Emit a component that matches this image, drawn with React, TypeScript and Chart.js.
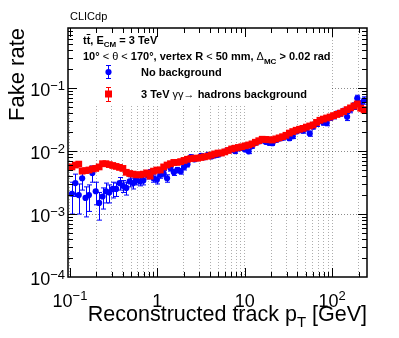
import React, { useEffect, useRef } from "react";
import { Chart, registerables } from "chart.js";

Chart.register(...registerables);

// ---------------- data ----------------
const pT = [
  0.1054, 0.1153, 0.1261, 0.1379, 0.1508, 0.1649, 0.1803, 0.1972, 0.2157, 0.2359,
  0.2579, 0.2821, 0.3085, 0.3373, 0.3689, 0.4034, 0.4412, 0.4825, 0.5277, 0.5771,
  0.6311, 0.6901, 0.7547, 0.8254, 0.9026, 0.9871, 1.0795, 1.1805, 1.291, 1.412,
  1.544, 1.688, 1.846, 2.019, 2.208, 2.415, 2.641, 2.888, 3.158, 3.454,
  3.777, 4.131, 4.517, 4.94, 5.402, 5.908, 6.461, 7.066, 7.727, 8.45,
  9.241, 10.11, 11.05, 12.09, 13.22, 14.45, 15.81, 17.29, 18.9, 20.67,
  22.61, 24.72, 27.04, 29.57, 32.34, 35.36, 38.67, 42.29, 46.25, 50.58,
  55.31, 60.49, 66.15, 72.34, 79.11, 86.52, 94.62, 103.5, 113.2, 123.7,
  135.3, 148.0, 161.8, 177.0, 193.5, 211.7, 231.5,
];

const withBkg = [
  0.0056, 0.006, 0.0062, 0.0048, 0.0049, 0.005, 0.0052, 0.0053, 0.0056, 0.0063,
  0.0063, 0.0061, 0.0059, 0.0057, 0.0055, 0.0053, 0.0046, 0.0044, 0.0043, 0.0042,
  0.0042, 0.0043, 0.0045, 0.004, 0.0048, 0.005, 0.005, 0.0056, 0.006, 0.0063,
  0.0066, 0.0066, 0.0068, 0.0071, 0.0074, 0.0076, 0.0077, 0.0077, 0.0079, 0.0081,
  0.0083, 0.0086, 0.009, 0.0093, 0.0093, 0.0097, 0.0102, 0.0108, 0.0111, 0.0114,
  0.0117, 0.0121, 0.0125, 0.013, 0.0138, 0.0146, 0.0154, 0.0153, 0.0151, 0.015,
  0.0156, 0.0162, 0.0169, 0.0178, 0.0193, 0.0204, 0.0214, 0.0222, 0.0229, 0.024,
  0.025, 0.026, 0.0285, 0.0308, 0.0322, 0.0335, 0.0348, 0.0365, 0.0382, 0.04,
  0.0425, 0.0455, 0.0485, 0.052, 0.056, 0.048, 0.045,
];

const withBkgErr = [
  0.0005, 0.0005, 0.0005, 0.0004, 0.0004, 0.0004, 0.0004, 0.0004, 0.0004, 0.0004,
  0.0004, 0.0004, 0.0004, 0.0004, 0.0003, 0.0003, 0.0003, 0.0003, 0.0003, 0.0003,
  0.0003, 0.0003, 0.0003, 0.0003, 0.0003, 0.0003, 0.0003, 0.0003, 0.0003, 0.0003,
  0.0003, 0.0003, 0.0003, 0.0003, 0.0003, 0.0003, 0.0003, 0.0003, 0.0004, 0.0004,
  0.0004, 0.0004, 0.0004, 0.0004, 0.0004, 0.0004, 0.0005, 0.0005, 0.0005, 0.0005,
  0.0005, 0.0006, 0.0006, 0.0006, 0.0007, 0.0007, 0.0008, 0.0008, 0.0008, 0.0008,
  0.0009, 0.0009, 0.001, 0.001, 0.0011, 0.0012, 0.0012, 0.0013, 0.0014, 0.0015,
  0.0016, 0.0017, 0.0019, 0.0021, 0.0022, 0.0024, 0.0026, 0.0028, 0.003, 0.0033,
  0.0036, 0.004, 0.0044, 0.0049, 0.0055, 0.005, 0.005,
];

const noBkg = [
  0.0021, 0.0031, 0.002, 0.0037, 0.0018, 0.002, 0.0045, 0.0023, 0.0015, 0.0019,
  0.0023, 0.0022, 0.0025, 0.0025, 0.0031, 0.0028, 0.0026, 0.0033, 0.0031, 0.0035,
  0.0033, 0.0034, 0.0042, 0.0045, 0.0037, 0.0035, 0.0042, 0.0044, 0.0037, 0.0054,
  0.0046, 0.005, 0.0048, 0.0056, 0.0062, 0.008, 0.0074, 0.0077, 0.0084, 0.008,
  0.0087, 0.0082, 0.0085, 0.0088, 0.0093, 0.0098, 0.0103, 0.0105, 0.01, 0.011,
  0.0112, 0.0106, 0.0099, 0.012, 0.0135, 0.0142, 0.0148, 0.014, 0.0135, 0.0133,
  0.015, 0.0158, 0.0162, 0.0175, 0.016, 0.0172, 0.0205, 0.0215, 0.021, 0.0228,
  0.019, 0.0245, 0.027, 0.03, 0.0285, 0.028, 0.034, 0.036, 0.039, 0.04,
  0.043, 0.035, 0.046, 0.052, 0.069, 0.056, 0.064,
];

const noBkgErr = [
  0.0011, 0.0012, 0.001, 0.0013, 0.0009, 0.0009, 0.0013, 0.0009, 0.0007, 0.0007,
  0.0008, 0.0007, 0.0007, 0.0006, 0.0007, 0.0006, 0.0006, 0.0006, 0.0006, 0.0006,
  0.0005, 0.0005, 0.0006, 0.0006, 0.0005, 0.0005, 0.0005, 0.0005, 0.0005, 0.0006,
  0.0005, 0.0005, 0.0005, 0.0006, 0.0006, 0.0007, 0.0006, 0.0006, 0.0007, 0.0006,
  0.0007, 0.0006, 0.0006, 0.0007, 0.0007, 0.0007, 0.0008, 0.0008, 0.0008, 0.0008,
  0.0008, 0.0008, 0.0008, 0.0009, 0.001, 0.001, 0.0011, 0.001, 0.001, 0.001,
  0.0011, 0.0012, 0.0012, 0.0013, 0.0013, 0.0014, 0.0016, 0.0017, 0.0017, 0.0019,
  0.0018, 0.0021, 0.0024, 0.0027, 0.0027, 0.0028, 0.0033, 0.0036, 0.004, 0.0043,
  0.0048, 0.0045, 0.0055, 0.0063, 0.008, 0.0072, 0.0085,
];

const X_DECADES = [0.1, 1, 10, 100];
const Y_DECADES = [1e-4, 1e-3, 1e-2, 1e-1];
const MINOR_STEPS = [1, 2, 3, 4, 5, 6, 7, 8, 9];
const X_MIN = 0.095;
const X_MAX = 250;
const Y_MIN = 1e-4;
const Y_MAX = 0.9;

const LABEL_WITH_BKG = "3 TeV γγ→ hadrons background";
const LABEL_NO_BKG = "No background";
const X_TITLE = "Reconstructed track p";
const Y_TITLE = "Fake rate";

// ---------------- style ----------------
const FAM = '"Liberation Sans", Arial, Helvetica, sans-serif';
const BLUE = "rgb(0,0,255)";
const RED = "rgb(255,0,0)";
const GRID = "rgba(0,0,0,0.32)";

function isDecade(v: number) {
  const l = Math.log10(v);
  return Math.abs(l - Math.round(l)) < 1e-6;
}

// returns [base, exponent] for a decade value, or null
function decadeParts(v: number): [string, string] | null {
  if (!isDecade(v)) return null;
  const e = Math.round(Math.log10(v));
  if (e === 0) return ["1", ""];
  if (e === 1) return ["10", ""];
  return ["10", String(e).replace("-", "\u2212")];
}

function buildTicks(decades: number[], min: number, max: number) {
  const out: { value: number; major: boolean }[] = [];
  for (const d of decades) {
    for (const m of MINOR_STEPS) {
      const v = d * m;
      if (v >= min * 0.999 && v <= max * 0.999) out.push({ value: v, major: m === 1 });
    }
  }
  return out.sort((a, b) => a.value - b.value);
}

function drawSegs(ctx: CanvasRenderingContext2D, x: number, y: number, segs: [string, string, number][]) {
  let cx = x;
  for (const [t, f, dy] of segs) {
    ctx.font = f;
    ctx.fillText(t, cx, y + dy);
    cx += ctx.measureText(t).width;
  }
  return cx;
}

function segsWidth(ctx: CanvasRenderingContext2D, segs: [string, string, number][]) {
  let w = 0;
  for (const [t, f] of segs) {
    ctx.font = f;
    w += ctx.measureText(t).width;
  }
  return w;
}

function errBar(ctx: CanvasRenderingContext2D, x: number, y1: number, y2: number, cap: number) {
  ctx.beginPath();
  ctx.moveTo(x, y1);
  ctx.lineTo(x, y2);
  ctx.moveTo(x - cap, y1);
  ctx.lineTo(x + cap, y1);
  ctx.moveTo(x - cap, y2);
  ctx.lineTo(x + cap, y2);
  ctx.stroke();
}

const ERRS = [withBkgErr, noBkgErr];
const VALS = [withBkg, noBkg];
const COLS = [RED, BLUE];

const LBL = `18px ${FAM}`;
const LBL_SUP = `13px ${FAM}`;

const rootPlugin = {
  id: "rootStyle",
  beforeDatasetDraw(chart: any, args: any) {
    const ctx = chart.ctx as CanvasRenderingContext2D;
    const ys = chart.scales.y;
    const i = args.index;
    const meta = args.meta;
    ctx.save();
    ctx.beginPath();
    ctx.rect(chart.chartArea.left, chart.chartArea.top, chart.chartArea.width, chart.chartArea.height);
    ctx.clip();
    ctx.strokeStyle = COLS[i];
    ctx.lineWidth = 1;
    meta.data.forEach((pt: any, k: number) => {
      const v = VALS[i][k];
      const e = ERRS[i][k];
      const yTop = ys.getPixelForValue(v + e);
      const yBot = ys.getPixelForValue(Math.max(v - e, Y_MIN * 0.5));
      errBar(ctx, Math.round(pt.x) + 0.5, yTop, yBot, 2.5);
    });
    ctx.restore();
  },
  afterDatasetsDraw(chart: any) {
    const ctx = chart.ctx as CanvasRenderingContext2D;
    const a = chart.chartArea;
    ctx.save();
    // legend box
    ctx.fillStyle = "#fff";
    ctx.fillRect(a.left + 1, a.top + 1, 331 - a.left, 104 - a.top);
    ctx.fillStyle = "#000";
    ctx.textBaseline = "alphabetic";
    ctx.textAlign = "left";
    const B = `bold 11px ${FAM}`;
    const N = `11px ${FAM}`;
    const S = `bold 8px ${FAM}`;
    ctx.font = B;
    const wt = ctx.measureText("t").width;
    drawSegs(ctx, 83, 44, [["tt", B, 0], [", E", B, 0], ["CM", S, 3], [" = 3 TeV", B, 0]]);
    ctx.strokeStyle = "#000";
    ctx.lineWidth = 1;
    ctx.beginPath();
    ctx.moveTo(83 + wt, 34.5);
    ctx.lineTo(83 + 2 * wt, 34.5);
    ctx.stroke();
    drawSegs(ctx, 83, 60, [
      ["10°", B, 0], [" < ", N, 0], ["θ", N, 0], [" < ", N, 0], ["170°, vertex R ", B, 0], ["<", N, 0],
      [" 50 mm, ", B, 0], ["Δ", N, 0], ["MC", S, 4], [" > 0.02 rad", B, 0],
    ]);
    drawSegs(ctx, 141, 76, [[LABEL_NO_BKG, B, 0]]);
    drawSegs(ctx, 141, 98, [["3 TeV ", B, 0], ["γγ→", N, 0], [" hadrons background", B, 0]]);
    // legend markers
    ctx.strokeStyle = BLUE;
    ctx.lineWidth = 1;
    errBar(ctx, 108.5, 65.5, 78.5, 2.5);
    ctx.fillStyle = BLUE;
    ctx.beginPath();
    ctx.arc(108.5, 72, 3.1, 0, Math.PI * 2);
    ctx.fill();
    ctx.strokeStyle = RED;
    errBar(ctx, 108.5, 87.5, 101.5, 2.5);
    ctx.fillStyle = RED;
    ctx.fillRect(105, 90.5, 7, 7);
    ctx.restore();
  },
  afterDraw(chart: any) {
    const ctx = chart.ctx as CanvasRenderingContext2D;
    const a = chart.chartArea;
    const xs = chart.scales.x;
    const ys = chart.scales.y;
    ctx.save();
    ctx.strokeStyle = "#000";
    ctx.lineWidth = 1;
    ctx.beginPath();
    for (const t of xs.ticks) {
      const v = t.value;
      if (v <= X_MIN * 1.001 || v >= X_MAX * 0.999) continue;
      const px = Math.round(xs.getPixelForValue(v)) + 0.5;
      const len = isDecade(v) ? 9 : 5;
      ctx.moveTo(px, a.bottom);
      ctx.lineTo(px, a.bottom - len);
      ctx.moveTo(px, a.top);
      ctx.lineTo(px, a.top + len);
    }
    for (const t of ys.ticks) {
      const v = t.value;
      if (v <= Y_MIN * 1.001 || v >= Y_MAX * 0.999) continue;
      const py = Math.round(ys.getPixelForValue(v)) + 0.5;
      const len = isDecade(v) ? 9 : 5;
      ctx.moveTo(a.left, py);
      ctx.lineTo(a.left + len, py);
      ctx.moveTo(a.right, py);
      ctx.lineTo(a.right - len, py);
    }
    ctx.stroke();
    ctx.lineWidth = 1.5;
    ctx.strokeRect(a.left, a.top, a.right - a.left, a.bottom - a.top);

    // tick labels (decades), placed with the library's scales
    ctx.fillStyle = "#000";
    ctx.textAlign = "left";
    ctx.textBaseline = "alphabetic";
    for (const t of xs.ticks) {
      const p = decadeParts(t.value);
      if (!p) continue;
      const segs: [string, string, number][] = [[p[0], LBL, 0]];
      if (p[1]) segs.push([p[1], LBL_SUP, -7]);
      const w = segsWidth(ctx, segs);
      const px = xs.getPixelForValue(t.value);
      drawSegs(ctx, px - w / 2, 307, segs);
    }
    for (const t of ys.ticks) {
      const p = decadeParts(t.value);
      if (!p) continue;
      const segs: [string, string, number][] = [[p[0], LBL, 0]];
      if (p[1]) segs.push([p[1], LBL_SUP, -6]);
      const w = segsWidth(ctx, segs);
      const py = ys.getPixelForValue(t.value);
      drawSegs(ctx, a.left - 3 - w, py + 8, segs);
    }

    ctx.font = `11px ${FAM}`;
    ctx.fillText("CLICdp", 70, 20);
    // x title
    const big = `21.5px ${FAM}`;
    const sub = `15px ${FAM}`;
    const tsegs: [string, string, number][] = [[X_TITLE, big, 0], ["T", sub, 6], [" [GeV]", big, 0]];
    const tw = segsWidth(ctx, tsegs);
    drawSegs(ctx, a.right - tw, 321, tsegs);
    // y title
    ctx.translate(24, a.top);
    ctx.rotate(-Math.PI / 2);
    ctx.font = `22px ${FAM}`;
    ctx.textAlign = "right";
    ctx.fillText(Y_TITLE, 0, 0);
    ctx.restore();
  },
};

export default function App() {
  const ref = useRef<HTMLCanvasElement>(null);
  useEffect(() => {
    if (!ref.current) return;
    Chart.defaults.font.family = FAM;
    const chart = new Chart(ref.current, {
      type: "scatter",
      data: {
        datasets: [
          {
            label: LABEL_WITH_BKG,
            data: pT.map((x, i) => ({ x, y: withBkg[i] })),
            pointStyle: "rect",
            pointRadius: 4.8,
            pointHoverRadius: 4.8,
            backgroundColor: RED,
            borderColor: RED,
            borderWidth: 0,
            order: 0,
          },
          {
            label: LABEL_NO_BKG,
            data: pT.map((x, i) => ({ x, y: noBkg[i] })),
            pointStyle: "circle",
            pointRadius: 3.1,
            pointHoverRadius: 3.1,
            backgroundColor: BLUE,
            borderColor: BLUE,
            borderWidth: 0,
            order: 1,
          },
        ],
      },
      options: {
        animation: false,
        responsive: true,
        maintainAspectRatio: false,
        events: [],
        layout: { padding: { left: 8, right: 32, top: 28, bottom: 0 } },
        plugins: { legend: { display: false }, tooltip: { enabled: false } },
        scales: {
          x: {
            type: "logarithmic",
            min: X_MIN,
            max: X_MAX,
            afterBuildTicks: (s: any) => {
              s.ticks = buildTicks(X_DECADES, X_MIN, X_MAX);
            },
            afterFit: (s: any) => {
              s.height = 61;
            },
            grid: { color: GRID, lineWidth: 1, drawTicks: false },
            border: { display: false, dash: [1, 2] },
            ticks: { display: false, autoSkip: false },
          },
          y: {
            type: "logarithmic",
            min: Y_MIN,
            max: Y_MAX,
            afterBuildTicks: (s: any) => {
              s.ticks = buildTicks(Y_DECADES, Y_MIN, Y_MAX);
            },
            afterFit: (s: any) => {
              s.width = 60;
            },
            grid: {
              color: (c: any) =>
                c.tick && isDecade(c.tick.value) && c.tick.value > Y_MIN * 1.01 ? "rgba(0,0,0,0.45)" : "rgba(0,0,0,0)",
              lineWidth: 1,
              drawTicks: false,
            },
            border: { display: false, dash: [1, 2] },
            ticks: { display: false, autoSkip: false },
          },
        },
      },
      plugins: [rootPlugin],
    } as any);
    return () => chart.destroy();
  }, []);
  return (
    <div style={{ position: "fixed", left: 0, top: 0, width: 399, height: 338, background: "#fff" }}>
      <canvas ref={ref} />
    </div>
  );
}
